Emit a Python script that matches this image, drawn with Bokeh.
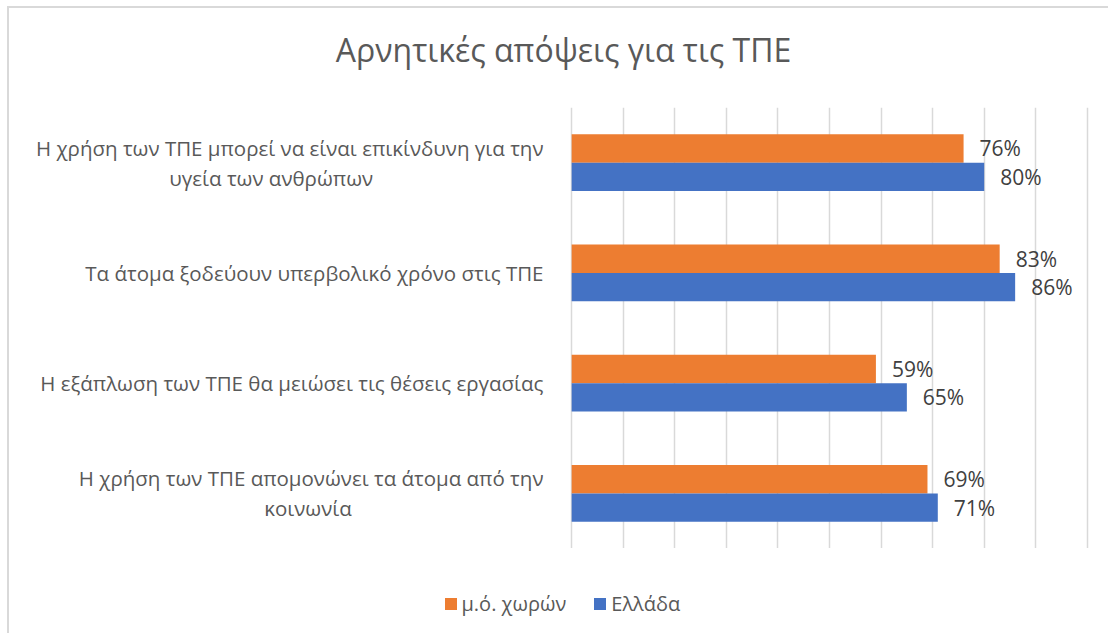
from bokeh.plotting import figure
from bokeh.layouts import column
from bokeh.models import (ColumnDataSource, FactorRange, Range1d, FixedTicker,
                          Legend, LegendItem, Label)
from bokeh.transform import dodge
from bokeh.embed import file_html
from bokeh.resources import INLINE

NBSP = "\u00a0"

# Survey statements (top to bottom); second lines padded so they sit centred
statements = [
    "Η χρήση των ΤΠΕ μπορεί να είναι επικίνδυνη για την\nυγεία των ανθρώπων" + NBSP * 32,
    "Τα άτομα ξοδεύουν υπερβολικό χρόνο στις ΤΠΕ",
    "Η εξάπλωση των ΤΠΕ θα μειώσει τις θέσεις εργασίας",
    "Η χρήση των ΤΠΕ απομονώνει τα άτομα από την\nκοινωνία" + NBSP * 36,
]
avg_countries = [76, 83, 59, 69]   # μ.ό. χωρών (%)
greece = [80, 86, 65, 71]          # Ελλάδα (%)
series_names = ["μ.ό. χωρών", "Ελλάδα"]
x_ticks = [0, 10, 20, 30, 40, 50, 60, 70, 80, 90, 100]
title_text = "Αρνητικές απόψεις για τις ΤΠΕ"

ORANGE = "#ED7D31"
BLUE = "#4472C4"
GREY_TEXT = "#595959"
LABEL_TEXT = "#404040"
FONT = "Open Sans"

src = ColumnDataSource(dict(
    cat=statements,
    avg=avg_countries,
    gr=greece,
    avg_lbl=[f"{v}%" for v in avg_countries],
    gr_lbl=[f"{v}%" for v in greece],
))

# overall canvas sits inside a thin chart border (margin + 2 px line)
W = 1099
TOP_H, MAIN_H, BOTTOM_H = 99, 441, 85
frame_left, frame_right = 557, 1083


def blank(height):
    f = figure(width=W, height=height, x_range=Range1d(0, W), y_range=Range1d(0, height),
               x_axis_location=None, y_axis_location=None,
               output_backend="svg", toolbar_location=None, frame_align=False,
               min_border_left=0, min_border_right=0, min_border_top=0, min_border_bottom=0)
    f.grid.visible = False
    f.outline_line_color = None
    f.background_fill_color = "white"
    f.border_fill_color = "white"
    return f


# --- title strip
top = blank(TOP_H)
top.add_layout(Label(x=554, y=TOP_H - 41, text=title_text, text_align="center",
                     text_baseline="middle", text_font=FONT, text_font_size="32px",
                     text_color=GREY_TEXT))

# --- main bar chart
p = figure(
    width=W, height=MAIN_H,
    y_range=FactorRange(*reversed(statements)),
    x_range=Range1d(-1, 101),
    x_axis_location=None,
    output_backend="svg", toolbar_location=None, frame_align=False,
    min_border_left=frame_left, min_border_right=W - frame_right,
    min_border_top=0, min_border_bottom=0,
)
p.outline_line_color = None
p.background_fill_color = "white"
p.border_fill_color = "white"

bar_h = 0.258
r_avg = p.hbar(y=dodge("cat", bar_h / 2, range=p.y_range), right="avg", left=0,
               height=bar_h, source=src, fill_color=ORANGE, line_color=None)
r_gr = p.hbar(y=dodge("cat", -bar_h / 2, range=p.y_range), right="gr", left=0,
              height=bar_h, source=src, fill_color=BLUE, line_color=None)

for col, lbl, off in (("avg", "avg_lbl", bar_h / 2), ("gr", "gr_lbl", -bar_h / 2)):
    p.text(x=col, y=dodge("cat", off, range=p.y_range), text=lbl, source=src,
           x_offset=16, text_align="left", text_baseline="middle",
           text_font={"value": FONT}, text_font_size="21px",
           text_color=LABEL_TEXT)

p.xgrid.ticker = FixedTicker(ticks=x_ticks)
p.xgrid.grid_line_color = "#d9d9d9"
p.xgrid.grid_line_width = 1.5
p.ygrid.grid_line_color = None

ya = p.yaxis[0]
ya.axis_line_color = None
ya.major_tick_line_color = None
ya.minor_tick_line_color = None
ya.major_label_standoff = 17
ya.major_label_text_font = FONT
ya.major_label_text_font_size = "20.5px"
ya.major_label_text_color = GREY_TEXT
ya.major_label_text_line_height = 1.07

# --- legend strip (hidden renderers only provide the colour swatches)
bottom = blank(BOTTOM_H)
sw_avg = bottom.hbar(y=0, right="avg", height=1, source=src,
                     fill_color=ORANGE, line_color=None, visible=False)
sw_gr = bottom.hbar(y=0, right="gr", height=1, source=src,
                    fill_color=BLUE, line_color=None, visible=False)
legend = Legend(items=[LegendItem(label=series_names[0], renderers=[sw_avg]),
                       LegendItem(label=series_names[1], renderers=[sw_gr])],
                orientation="horizontal", location=(433.5, 16.5),
                glyph_width=15, glyph_height=15, label_standoff=4, spacing=26,
                padding=2, margin=0, border_line_color=None,
                background_fill_alpha=0,
                label_text_font=FONT, label_text_font_size="20px",
                label_text_color=GREY_TEXT)
bottom.add_layout(legend)

layout = column(top, p, bottom, spacing=0)
layout.styles = {"margin-left": "7px", "margin-top": "6px",
                 "border-left": "2px solid #d9d9d9", "border-top": "2px solid #d9d9d9"}

open("out.html", "w").write(file_html(layout, INLINE))
